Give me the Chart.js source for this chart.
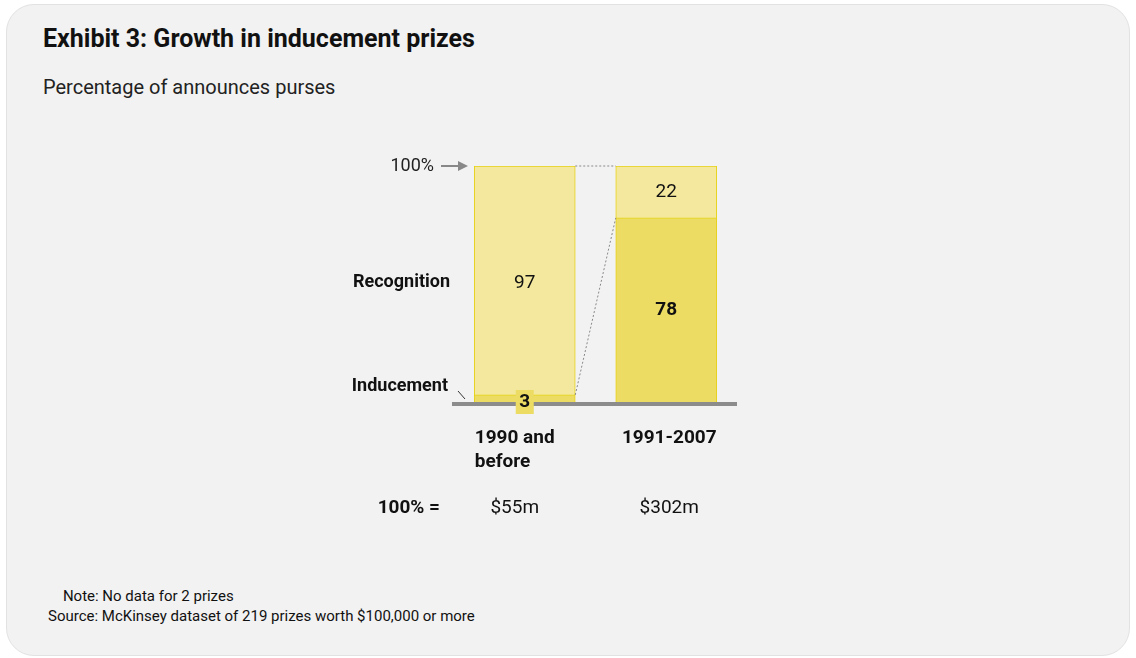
<!DOCTYPE html>
<html><head><meta charset="utf-8">
<script src="https://cdn.jsdelivr.net/npm/chart.js@4"></script>
<style>
body{margin:0;background:#fff;font-family:Roboto,"Liberation Sans",sans-serif;}
#card{position:absolute;left:6px;top:4px;width:1122px;height:650px;background:#f2f2f2;border:1px solid #e2e2e2;border-radius:28px;}
h1{position:absolute;left:43px;top:24px;margin:0;font-size:25px;font-weight:bold;color:#111;}
#sub{position:absolute;left:43px;top:75px;font-size:20px;color:#222;}
#notes{position:absolute;left:48px;top:586px;font-size:15px;color:#111;line-height:20px;}
canvas{position:absolute;left:0;top:0;}
</style></head><body>
<div id="card"></div>
<h1>Exhibit 3: Growth in inducement prizes</h1>
<div id="sub">Percentage of announces purses</div>
<div id="notes">&nbsp;&nbsp;&nbsp;&nbsp;Note: No data for 2 prizes<br>Source: McKinsey dataset of 219 prizes worth $100,000 or more</div>
<div style="position:absolute;left:0;top:0;width:1136px;height:658px"><canvas id="c"></canvas></div>
<script>
const periods = ['1990 and before', '1991-2007'];
const inducement = [3, 78];
const recognition = [97, 22];
const purses = ['$55m', '$302m'];

const overlay = {
  id: 'overlay',
  afterDatasetsDraw(chart) {
    const ctx = chart.ctx, x = chart.scales.x, y = chart.scales.y;
    const half = 50.5;
    const y0 = y.getPixelForValue(0), y100 = y.getPixelForValue(100);
    ctx.save();
    // connectors
    ctx.strokeStyle = '#888'; ctx.lineWidth = 1; ctx.setLineDash([2, 2]);
    ctx.beginPath();
    ctx.moveTo(x.getPixelForValue(0) + half, y100); ctx.lineTo(x.getPixelForValue(1) - half, y100);
    ctx.moveTo(x.getPixelForValue(0) + half, y.getPixelForValue(inducement[0])); ctx.lineTo(x.getPixelForValue(1) - half, y.getPixelForValue(inducement[1]));
    ctx.stroke(); ctx.setLineDash([]);
    // baseline
    ctx.strokeStyle = '#8c8c8c'; ctx.lineWidth = 4;
    ctx.beginPath(); ctx.moveTo(452, y0 + 2); ctx.lineTo(737, y0 + 2); ctx.stroke();
    // arrow 100%
    ctx.fillStyle = '#222'; ctx.font = '18px Roboto, sans-serif';
    ctx.textAlign = 'right'; ctx.textBaseline = 'middle';
    ctx.fillText('100%', 434, y100);
    ctx.strokeStyle = '#888'; ctx.lineWidth = 2;
    ctx.beginPath(); ctx.moveTo(441, y100); ctx.lineTo(460, y100); ctx.stroke();
    ctx.fillStyle = '#888';
    ctx.beginPath(); ctx.moveTo(468, y100); ctx.lineTo(458, y100 - 5); ctx.lineTo(458, y100 + 5); ctx.fill();
    // side labels
    ctx.fillStyle = '#111'; ctx.font = 'bold 18px Roboto, sans-serif';
    ctx.fillText('Recognition', 450, 282);
    ctx.fillText('Inducement', 448, 386);
    ctx.strokeStyle = '#333'; ctx.lineWidth = 1;
    ctx.beginPath(); ctx.moveTo(458, 391); ctx.lineTo(465, 399); ctx.stroke();
    // segment values
    ctx.textAlign = 'center';
    const c0 = x.getPixelForValue(0), c1 = x.getPixelForValue(1);
    ctx.font = '19px Roboto, sans-serif';
    ctx.fillText(String(recognition[0]), c0, 283);
    ctx.fillText(String(recognition[1]), c1, y.getPixelForValue(inducement[1] + recognition[1] / 2));
    ctx.font = 'bold 19px Roboto, sans-serif';
    ctx.fillText(String(inducement[1]), c1, y.getPixelForValue(inducement[1] / 2));
    ctx.fillStyle = '#ecdc63'; ctx.fillRect(c0 - 9, y0 - 12, 18, 24);
    ctx.fillStyle = '#111'; ctx.fillText(String(inducement[0]), c0, y0);
    // category labels
    ctx.textAlign = 'left';
    ctx.fillText('1990 and', c0 - 50, 438);
    ctx.fillText('before', c0 - 50, 462);
    ctx.textAlign = 'center';
    ctx.fillText(periods[1], c1 + 3, 438);
    ctx.textAlign = 'right';
    ctx.fillText('100% =', 440, 508);
    ctx.textAlign = 'center'; ctx.font = '19px Roboto, sans-serif';
    ctx.fillText(purses[0], c0 - 10, 508);
    ctx.fillText(purses[1], c1 + 3, 508);
    ctx.restore();
  }
};

new Chart(document.getElementById('c'), {
  type: 'bar',
  data: {
    labels: periods,
    datasets: [
      { data: inducement, backgroundColor: '#ecdc63', borderColor: '#e6d21a', borderWidth: 1, barThickness: 101 },
      { data: recognition, backgroundColor: '#f3e89d', borderColor: '#e6d21a', borderWidth: 1, barThickness: 101 }
    ]
  },
  options: {
    responsive: true, maintainAspectRatio: false, animation: false,
    layout: { padding: { left: 454, right: 399, top: 166, bottom: 256 } },
    plugins: { legend: { display: false }, tooltip: { enabled: false } },
    scales: {
      x: { stacked: true, display: false },
      y: { stacked: true, display: false, min: 0, max: 100 }
    }
  },
  plugins: [overlay]
});
</script>
</body></html>
